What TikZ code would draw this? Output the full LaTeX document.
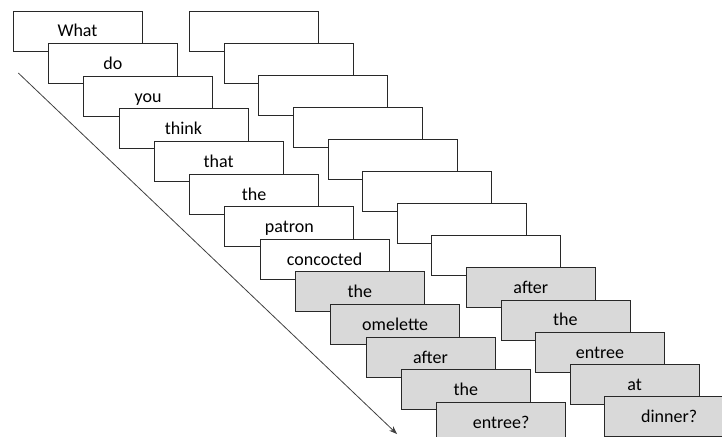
\documentclass[tikz,border=0pt]{standalone}
\usepackage{fontspec}
\setmainfont{Carlito}
\usetikzlibrary{arrows.meta}
\definecolor{slidegray}{RGB}{217, 217, 217}
\definecolor{edgegray}{RGB}{40, 40, 40}

\begin{document}
\begin{tikzpicture}[
    x=1pt, y=-1pt,
    wordbox/.style={draw=edgegray, line width=0.8pt, fill=white,
        minimum width=129pt, minimum height=40pt, inner sep=0pt,
        text height=14pt, text depth=2pt, font=\fontsize{18}{20}\selectfont},
    grayword/.style={wordbox, fill=slidegray},
    timeline/.style={-{Stealth[length=8pt, width=6pt]}, line width=0.8pt, draw=black!75}
]

% === Frame (cropped slide) ===
\clip (0, 0) rectangle (722, 436);

% === Left stack: sentence, one word per frame ===
\node[wordbox] (w1) at (77.5, 31.0) {What};
\node[wordbox] (w2) at (112.8, 63.6) {do};
\node[wordbox] (w3) at (148.1, 96.2) {you};
\node[wordbox] (w4) at (183.4, 128.8) {think};
\node[wordbox] (w5) at (218.7, 161.4) {that};
\node[wordbox] (w6) at (254.0, 194.0) {the};
\node[wordbox] (w7) at (289.3, 226.6) {patron};
\node[wordbox] (w8) at (324.6, 259.2) {concocted};
\node[grayword] (w9) at (359.9, 291.8) {the};
\node[grayword] (w10) at (395.2, 324.4) {omelette};
\node[grayword] (w11) at (430.5, 357.0) {after};
\node[grayword] (w12) at (465.8, 389.6) {the};
\node[grayword] (w13) at (501.1, 422.2) {entree?};

% === Right stack: blank frames, then the continuation ===
\node[wordbox] (r1) at (254.0, 31.0) {};
\node[wordbox] (r2) at (288.6, 63.1) {};
\node[wordbox] (r3) at (323.2, 95.2) {};
\node[wordbox] (r4) at (357.8, 127.3) {};
\node[wordbox] (r5) at (392.4, 159.4) {};
\node[wordbox] (r6) at (427.0, 191.5) {};
\node[wordbox] (r7) at (461.6, 223.6) {};
\node[wordbox] (r8) at (496.2, 255.7) {};
\node[grayword] (r9) at (530.8, 287.8) {after};
\node[grayword] (r10) at (565.4, 319.9) {the};
\node[grayword] (r11) at (600.0, 352.0) {entree};
\node[grayword] (r12) at (634.6, 384.1) {at};
\node[grayword] (r13) at (669.2, 416.2) {dinner?};

% === Time arrow ===
\coordinate (tstart) at (18.3, 73.0);
\coordinate (tend) at (397.0, 434.0);
\draw[timeline] (tstart) -- (tend);

\end{tikzpicture}
\end{document}
